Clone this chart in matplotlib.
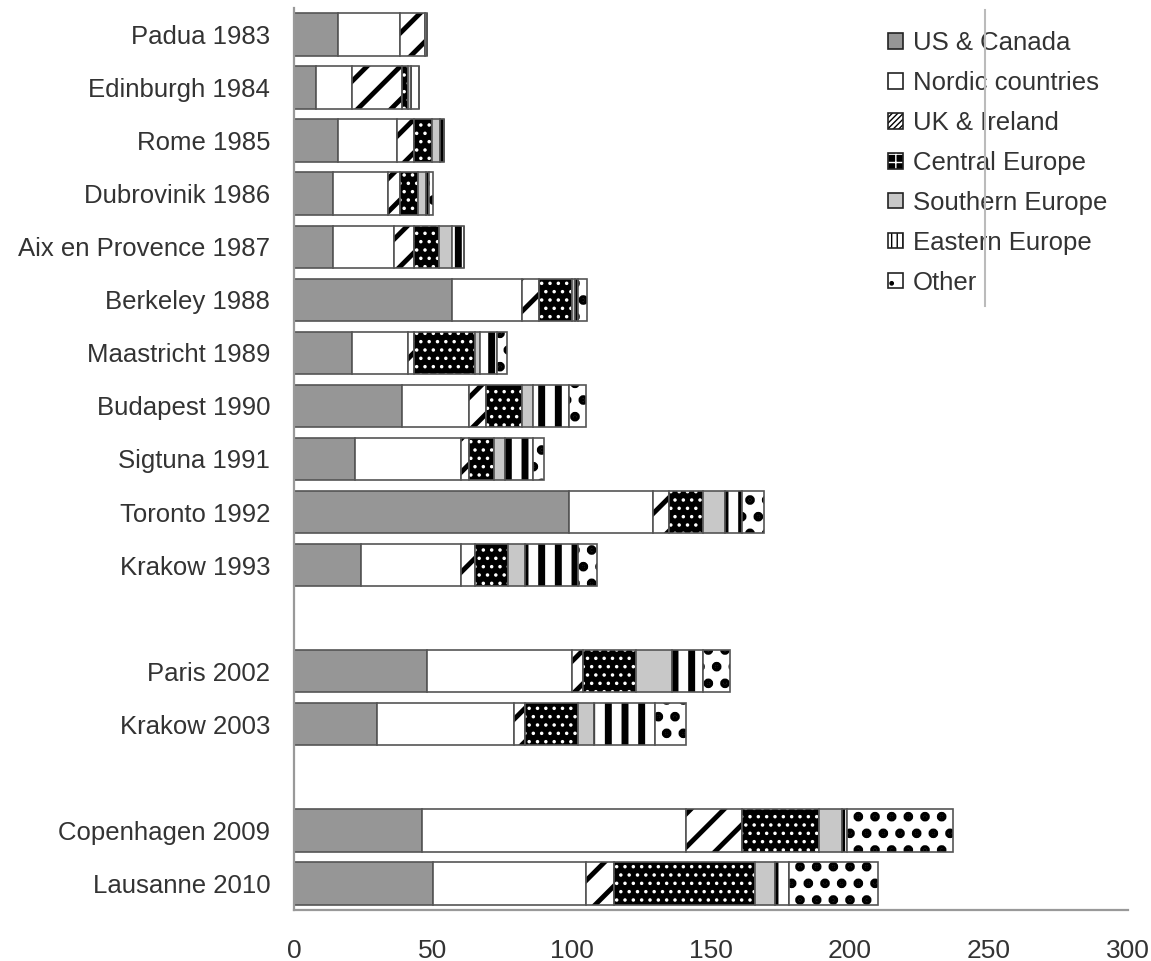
import numpy as np
import matplotlib as mpl
import matplotlib.pyplot as plt
from matplotlib.lines import Line2D
from matplotlib.patches import Patch

plt.rcParams['font.family'] = ['Liberation Sans', 'DejaVu Sans']

# conference rows, top to bottom ('' = empty gap row)
labels = ['Padua 1983', 'Edinburgh 1984', 'Rome 1985', 'Dubrovinik 1986',
          'Aix en Provence 1987', 'Berkeley 1988', 'Maastricht 1989',
          'Budapest 1990', 'Sigtuna 1991', 'Toronto 1992', 'Krakow 1993', '',
          'Paris 2002', 'Krakow 2003', '', 'Copenhagen 2009', 'Lausanne 2010']

us_canada = [16, 8, 16, 14, 14, 57, 21, 39, 22, 99, 24, 0, 48, 30, 0, 46, 50]
nordic    = [22, 13, 21, 20, 22, 25, 20, 24, 38, 30, 36, 0, 52, 49, 0, 95, 55]
uk_irl    = [9, 18, 6, 4, 7, 6, 2, 6, 3, 6, 5, 0, 4, 4, 0, 20, 10]
central   = [0, 2, 6.5, 6.5, 9, 12, 22, 13, 9, 12, 12, 0, 19, 19, 0, 28, 51]
southern  = [1, 1, 3, 3, 5, 1, 2, 4, 4, 8, 6, 0, 13, 6, 0, 8, 7]
eastern   = [0, 3, 1.5, 1, 4, 1, 6, 13, 10, 6, 19, 0, 11, 22, 0, 2, 5]
other     = [0, 0, 0, 1.5, 0, 3.5, 3.5, 6, 4, 8, 7, 0, 10, 11, 0, 38, 32]

series = ['US & Canada', 'Nordic countries', 'UK & Ireland', 'Central Europe',
          'Southern Europe', 'Eastern Europe', 'Other']
values = [us_canada, nordic, uk_irl, central, southern, eastern, other]

# face, hatch colour, hatch, hatch linewidth
styles = [('#969696', '#969696', None, 1.0),
          ('white', 'white', None, 1.0),
          ('white', 'black', '/', 3.5),
          ('black', 'white', '..', 1.3),
          ('#c8c8c8', '#c8c8c8', None, 1.0),
          ('white', 'black', '|', 5.0),
          ('white', 'black', '.', 4.5)]

# legend swatch look (face, hatch colour, hatch, hatch lw)
swatches = [('#969696', '#969696', None, 1.0),
            ('white', 'white', None, 1.0),
            ('white', 'black', '//////', 2.0),
            ('black', 'white', '++', 1.5),
            ('#c8c8c8', '#c8c8c8', None, 1.0),
            ('white', 'black', '|||', 3.0),
            ('white', 'black', '.', 3.0)]

fig = plt.figure(figsize=(11.51, 9.61), dpi=100)
ax = fig.add_axes([0.2554, 0.0531, 0.7246, 0.9386])

y = np.arange(len(labels))
left = np.zeros(len(labels))
for name, vals, (fc, hc, hatch, hlw) in zip(series, values, styles):
    vals = np.array(vals, dtype=float)
    with mpl.rc_context({'hatch.linewidth': hlw}):
        bars = ax.barh(y, vals, left=left, height=0.8, color=fc,
                       edgecolor=hc, hatch=hatch, linewidth=0)
        for b in bars:
            if hasattr(b, 'set_hatch_linewidth'):
                b.set_hatch_linewidth(hlw)
    ax.barh(y, vals, left=left, height=0.8, fill=False,
            edgecolor='#555555', linewidth=1.2)
    left += vals

ax.set_ylim(len(labels) - 0.5, -0.5)
ax.set_xlim(0, 300)
ax.set_yticks(y)
ax.set_yticklabels(labels, fontsize=18.5, color='#333333')
ax.set_xticks(np.arange(0, 301, 50))
ax.tick_params(axis='x', labelsize=19, length=0, pad=21, colors='#333333')
ax.tick_params(axis='y', length=0, pad=17)
for s in ['top', 'right']:
    ax.spines[s].set_visible(False)
for s in ['left', 'bottom']:
    ax.spines[s].set_color('#999999')
    ax.spines[s].set_linewidth(1.6)

handles = []
for name, (fc, hc, hatch, hlw) in zip(series, swatches):
    with mpl.rc_context({'hatch.linewidth': hlw}):
        p = Patch(facecolor=fc, edgecolor=hc, hatch=hatch, linewidth=0, label=name)
        if hasattr(p, 'set_hatch_linewidth'):
            p.set_hatch_linewidth(hlw)
    frame = Patch(facecolor='none', edgecolor='#222222', linewidth=1.2)
    handles.append((p, frame))

ax.legend(handles=handles, labels=series, loc='upper left',
          bbox_to_anchor=(0.685, 1.0), frameon=False, fontsize=18.5,
          handlelength=0.55, handleheight=0.55, handletextpad=0.4,
          labelspacing=0.62, labelcolor='#333333')

# thin grey vertical stroke through the legend
fig.add_artist(Line2D([0.8558, 0.8558], [0.682, 0.99], color='#bbbbbb', lw=1.5))

fig.savefig('out.png', dpi=100)
